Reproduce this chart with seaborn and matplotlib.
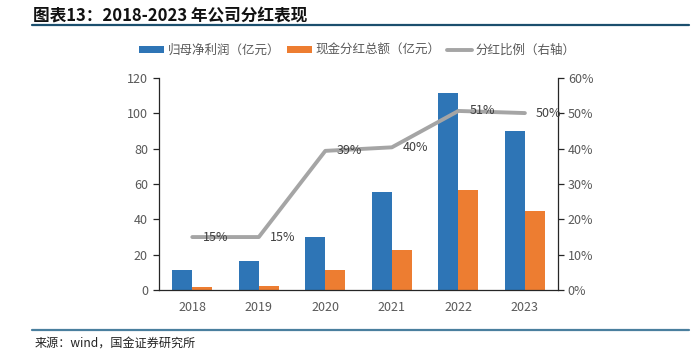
import numpy as np
import pandas as pd
import seaborn as sns
import matplotlib.pyplot as plt
from matplotlib.patches import Patch
from matplotlib.lines import Line2D
from matplotlib.ticker import FuncFormatter

# 2018-2023 dividend performance data.
years = ['2018', '2019', '2020', '2021', '2022', '2023']
net_profit = [11.3, 16.6, 29.8, 55.3, 111.7, 89.8]
cash_dividend = [1.7, 2.5, 11.6, 22.4, 56.4, 44.8]
payout_ratio = [0.15, 0.15, 0.394, 0.404, 0.507, 0.501]
ratio_labels = ['15%', '15%', '39%', '40%', '51%', '50%']

series_names = ['归母净利润（亿元）', '现金分红总额（亿元）', '分红比例（右轴）']
colors = ['#2E75B6', '#ED7D31', '#A5A5A5']

sns.set_style('white')
plt.rcParams['font.family'] = ['Noto Sans CJK SC', 'DejaVu Sans']
plt.rcParams['axes.unicode_minus'] = False

# Long-form table for the grouped bars.
df = pd.DataFrame({
    'year': years * 2,
    'value': net_profit + cash_dividend,
    'series': [series_names[0]] * len(years) + [series_names[1]] * len(years),
})

fig = plt.figure(figsize=(6.99, 3.55), dpi=100)
ax = fig.add_axes([0.2275, 0.183, 0.571, 0.597])

sns.barplot(data=df, x='year', y='value', hue='series', palette=colors[:2],
            width=0.6, gap=0, saturation=1, legend=False, linewidth=0,
            edgecolor='none', ax=ax)
ax.set_xlim(-0.5, len(years) - 0.5)
ax.set_ylim(0, 120)
ax.set_yticks(np.arange(0, 121, 20))
ax.set_xlabel('')
ax.set_ylabel('')

# Right axis: payout ratio line.
ax2 = ax.twinx()
xpos = np.arange(len(years))
sns.lineplot(x=xpos, y=payout_ratio, color=colors[2], linewidth=2.8, ax=ax2)
ax2.set_ylim(0, 0.6)
ax2.set_yticks(np.arange(0, 0.61, 0.1))
ax2.yaxis.set_major_formatter(FuncFormatter(lambda v, p: f'{v:.0%}'))
for xi, yi, lab in zip(xpos, payout_ratio, ratio_labels):
    ax2.annotate(lab, (xi, yi), xytext=(8, 0), textcoords='offset points',
                 ha='left', va='center', fontsize=9, color='#404040')

# Spines and ticks.
for a in (ax, ax2):
    a.spines['top'].set_visible(False)
    for s in ('left', 'right', 'bottom'):
        a.spines[s].set_color('#262626')
        a.spines[s].set_linewidth(0.9)
ax.spines['right'].set_visible(False)
ax2.spines['left'].set_visible(False)
ax2.spines['bottom'].set_visible(False)

ax.tick_params(axis='y', length=4, width=0.9, color='#262626', labelsize=9,
               labelcolor='#595959', pad=4)
ax2.tick_params(axis='y', length=4, width=0.9, color='#262626', labelsize=9,
                labelcolor='#595959', pad=3)
ax.set_xticks(np.arange(-0.5, len(years), 1.0), minor=True)
ax.tick_params(axis='x', which='major', length=0, labelsize=9,
               labelcolor='#595959', pad=8)
ax.tick_params(axis='x', which='minor', length=4, width=0.9, color='#262626')

# Legend across the top.
handles = [
    Patch(facecolor=colors[0], edgecolor='none'),
    Patch(facecolor=colors[1], edgecolor='none'),
    Line2D([0], [0], color=colors[2], linewidth=2.8),
]
fig.legend(handles, series_names, loc='center', bbox_to_anchor=(0.511, 0.858),
           ncol=3, frameon=False, fontsize=9, handlelength=2.0,
           handleheight=0.45, columnspacing=0.5, handletextpad=0.3,
           labelcolor='#595959')

# Title, footer and rules.
fig.text(0.047, 0.955, '图表13：2018-2023 年公司分红表现', fontsize=12,
         fontweight='bold', fontstyle='italic', color='#111111',
         ha='left', va='center')
fig.add_artist(Line2D([0.046, 0.985], [0.929, 0.929], color='#1B4F6E',
                      linewidth=1.6))
fig.add_artist(Line2D([0.046, 0.985], [0.07, 0.07], color='#4A7F9E',
                      linewidth=1.6))
fig.text(0.05, 0.033, '来源：wind，国金证券研究所', fontsize=8.7,
         color='#222222', ha='left', va='center')

fig.savefig('out.png', dpi=100)
